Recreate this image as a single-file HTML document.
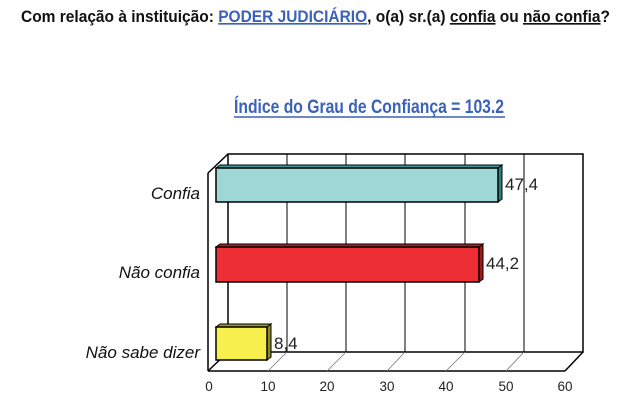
<!DOCTYPE html>
<html><head><meta charset="utf-8"><style>
body{margin:0;width:640px;height:404px;background:#fff;overflow:hidden}
</style></head><body>
<svg width="640" height="404" xmlns="http://www.w3.org/2000/svg" font-family="Liberation Sans, Arial, sans-serif">
<text x="21" y="22" font-family="Liberation Sans Narrow, Liberation Sans, sans-serif" font-weight="bold" font-size="16.5" textLength="589" lengthAdjust="spacingAndGlyphs" fill="#111">Com relação à instituição:  <tspan fill="#3a62b8" text-decoration="underline">PODER JUDICIÁRIO</tspan>,  o(a) sr.(a) <tspan text-decoration="underline">confia</tspan> ou <tspan text-decoration="underline">não confia</tspan>?</text>
<text x="234" y="113" font-family="Liberation Sans Narrow, Liberation Sans, sans-serif" font-weight="bold" font-size="19" textLength="270" lengthAdjust="spacingAndGlyphs" fill="#3a62b8">Índice do Grau de Confiança = 103.2</text>
<line x1="234" y1="117" x2="505" y2="117" stroke="#3a62b8" stroke-width="1.5"/>
<!-- back wall & gridlines -->
<g stroke="#000" stroke-width="1" fill="none">
<rect x="228" y="154" width="355" height="198" stroke-width="1.5"/>
<line x1="287" y1="154" x2="287" y2="352"/><line x1="346" y1="154" x2="346" y2="352"/>
<line x1="405" y1="154" x2="405" y2="352"/><line x1="465" y1="154" x2="465" y2="352"/>
<line x1="524" y1="154" x2="524" y2="352"/>
<line x1="208" y1="173" x2="228" y2="154" stroke-width="1.5"/>
<line x1="208" y1="173" x2="208" y2="371" stroke-width="1.5"/>
<line x1="208" y1="371" x2="565" y2="371" stroke-width="1.5"/>
<line x1="208" y1="371" x2="228" y2="352" stroke-width="1.5"/>
<line x1="565" y1="371" x2="583" y2="352" stroke-width="1.5"/>
</g>
<g stroke="#777" stroke-width="0.8">
<line x1="268" y1="371" x2="287" y2="352"/><line x1="327" y1="371" x2="346" y2="352"/>
<line x1="387" y1="371" x2="405" y2="352"/><line x1="446" y1="371" x2="465" y2="352"/>
<line x1="506" y1="371" x2="524" y2="352"/>
</g>
<!-- bars -->
<g stroke="#000" stroke-width="1.5">
<polygon points="216,168 220,165 502,165 498,168" fill="#3a9c9a" stroke-width="1"/>
<polygon points="498,168 502,165 502,199 498,202" fill="#2e7f7d" stroke-width="1"/>
<rect x="216" y="168" width="282" height="34" fill="#9dd8d6"/>
<polygon points="216,247 220,244 483,244 479,247" fill="#b02020" stroke-width="1"/>
<polygon points="479,247 483,244 483,279 479,282" fill="#a01818" stroke-width="1"/>
<rect x="216" y="247" width="263" height="35" fill="#ee2e35"/>
<polygon points="216,327 220,324 271,324 267,327" fill="#9a9a30" stroke-width="1"/>
<polygon points="267,327 271,324 271,357 267,360" fill="#8a8a28" stroke-width="1"/>
<rect x="216" y="327" width="51" height="33" fill="#f7ef4e"/>
</g>
<g font-size="17" fill="#222">
<text x="505" y="190">47,4</text>
<text x="486" y="269">44,2</text>
<text x="274" y="349">8,4</text>
</g>
<g font-size="17" font-style="italic" fill="#111" text-anchor="end">
<text x="200" y="199">Confia</text>
<text x="200" y="278">Não confia</text>
<text x="200" y="358">Não sabe dizer</text>
</g>
<g font-size="13.5" fill="#222" text-anchor="middle">
<text x="209" y="391">0</text><text x="268" y="391">10</text><text x="327" y="391">20</text>
<text x="387" y="391">30</text><text x="446" y="391">40</text><text x="506" y="391">50</text>
<text x="565" y="391">60</text>
</g>
</svg>
</body></html>
